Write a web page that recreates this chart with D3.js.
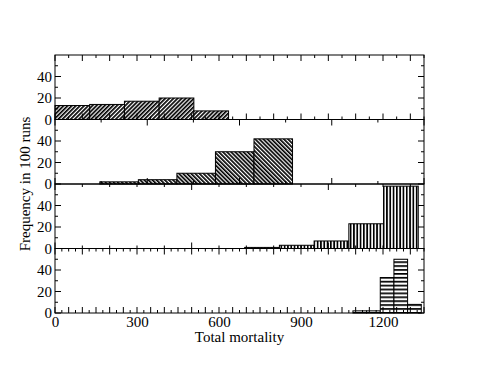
<!DOCTYPE html>
<html>
<head>
<meta charset="utf-8">
<script src="https://d3js.org/d3.v7.min.js"></script>
<style>
  body { margin: 0; background: #fff; }
  text { font-family: "Liberation Serif", "DejaVu Serif", serif; }
</style>
</head>
<body>
<div id="my_dataviz"></div>
<script>
// histogram data, one panel per run set (bin edges in mortality units, counts per 100 runs)
var panel1Edges = [0, 127, 254, 381, 508, 635];
var panel1Counts = [13, 14, 17, 20, 8];
var panel2Edges = [164, 305, 446, 587, 728, 869];
var panel2Counts = [2, 4, 10, 30, 42];
var panel3Edges = [694, 821, 948, 1075, 1202, 1329];
var panel3Counts = [1, 3, 7, 23, 58];
var panel4Edges = [1090, 1140, 1190, 1240, 1290, 1340];
var panel4Counts = [2, 2, 33, 50, 8];

var xTickLabels = [0, 300, 600, 900, 1200];
var yTickLabels = [0, 20, 40];
var xDomain = [0, 1350];
var yDomain = [0, 60];

// note: "top" is a read-only window property, so use plotTop
var width = 491, height = 379;
var plotLeft = 55, plotRight = 424, plotTop = 55, panelH = 64.5;

var svg = d3.select("#my_dataviz")
  .append("svg")
  .attr("width", width)
  .attr("height", height);

var defs = svg.append("defs");

// hatch fills, xmgrace style (stripe pattern rotated for the diagonals)
function stripes(id, size, thick, angle) {
  var p = defs.append("pattern").attr("id", id)
    .attr("patternUnits", "userSpaceOnUse")
    .attr("width", size).attr("height", size)
    .attr("patternTransform", "rotate(" + angle + ")");
  p.append("rect").attr("width", size).attr("height", size).attr("fill", "#fff");
  p.append("rect").attr("width", thick).attr("height", size).attr("fill", "#000");
}
stripes("hatch1", 2.9, 1.7, 45);
stripes("hatch2", 2.9, 1.7, -45);
stripes("hatch3", 3.3, 1.7, 0);
stripes("hatch4", 3.9, 1.7, 90);

var x = d3.scaleLinear().domain(xDomain).range([plotLeft, plotRight]);

var panels = [
  {edges: panel1Edges, counts: panel1Counts, fill: "url(#hatch1)",
   topStep: 50, topMajor: 100, botStep: 50, botMajor: 100},
  {edges: panel2Edges, counts: panel2Counts, fill: "url(#hatch2)",
   topStep: 168.75, topMajor: 337.5, botStep: 168.75, botMajor: 337.5},
  {edges: panel3Edges, counts: panel3Counts, fill: "url(#hatch3)",
   topStep: 100, topMajor: 500, botStep: 100, botMajor: 500},
  {edges: panel4Edges, counts: panel4Counts, fill: "url(#hatch4)",
   topStep: 25, topMajor: 100, botStep: 25, botMajor: 50}
];

function tickLines(g, y0, dir, step, major) {
  var vals = d3.range(0, xDomain[1] + 0.01, step);
  g.selectAll(null)
    .data(vals)
    .enter()
    .append("line")
    .attr("x1", function(d) { return x(d); })
    .attr("x2", function(d) { return x(d); })
    .attr("y1", y0)
    .attr("y2", function(d) {
      var isMajor = Math.abs(d / major - Math.round(d / major)) < 1e-6;
      return y0 + dir * (isMajor ? 6 : 3);
    })
    .attr("stroke", "#000")
    .attr("stroke-width", 1);
}

panels.forEach(function(p, i) {
  var y0 = plotTop + panelH * (i + 1), y1 = plotTop + panelH * i;
  var y = d3.scaleLinear().domain(yDomain).range([y0, y1]);
  var g = svg.append("g");

  // bars
  g.selectAll("rect")
    .data(p.counts)
    .enter()
    .append("rect")
    .attr("x", function(d, j) { return x(p.edges[j]); })
    .attr("width", function(d, j) { return x(p.edges[j + 1]) - x(p.edges[j]); })
    .attr("y", function(d) { return y(d); })
    .attr("height", function(d) { return y(0) - y(d); })
    .style("fill", p.fill)
    .style("stroke", "#000")
    .style("stroke-width", 1);

  // frame
  g.append("rect")
    .attr("x", plotLeft).attr("y", y1)
    .attr("width", plotRight - plotLeft).attr("height", y0 - y1)
    .attr("fill", "none").attr("stroke", "#000").attr("stroke-width", 1);

  // x ticks, top and bottom, pointing inward
  tickLines(g, y1, 1, p.topStep, p.topMajor);
  tickLines(g, y0, -1, p.botStep, p.botMajor);

  // y ticks left and right
  var yt = d3.range(0, 60, 10);
  g.selectAll(null).data(yt).enter().append("line")
    .attr("x1", plotLeft).attr("x2", function(d) { return plotLeft + (d % 20 == 0 ? 6 : 3); })
    .attr("y1", function(d) { return y(d); }).attr("y2", function(d) { return y(d); })
    .attr("stroke", "#000");
  g.selectAll(null).data(yt).enter().append("line")
    .attr("x1", plotRight).attr("x2", function(d) { return plotRight - (d % 20 == 0 ? 6 : 3); })
    .attr("y1", function(d) { return y(d); }).attr("y2", function(d) { return y(d); })
    .attr("stroke", "#000");

  // y labels
  var ya = svg.append("g")
    .attr("transform", "translate(" + plotLeft + ",0)")
    .call(d3.axisLeft(y).tickValues(yTickLabels).tickSize(0).tickPadding(3).tickFormat(d3.format("d")));
  ya.select(".domain").remove();
  ya.selectAll("text").style("font-size", "15px").style("font-family", "Liberation Serif").attr("fill", "#000");
});

// x labels under the last panel
var xa = svg.append("g")
  .attr("transform", "translate(0," + (plotTop + panelH * 4) + ")")
  .call(d3.axisBottom(x).tickValues(xTickLabels).tickSize(0).tickPadding(3).tickFormat(d3.format("d")));
xa.select(".domain").remove();
xa.selectAll("text").style("font-size", "15px").style("font-family", "Liberation Serif").attr("fill", "#000");

svg.append("text")
  .attr("x", (plotLeft + plotRight) / 2)
  .attr("y", 342)
  .attr("text-anchor", "middle")
  .style("font-size", "15px")
  .text("Total mortality");

svg.append("text")
  .attr("transform", "translate(30," + (plotTop + panelH * 2) + ") rotate(-90)")
  .attr("text-anchor", "middle")
  .style("font-size", "15px")
  .text("Frequency in 100 runs");
</script>
</body>
</html>
